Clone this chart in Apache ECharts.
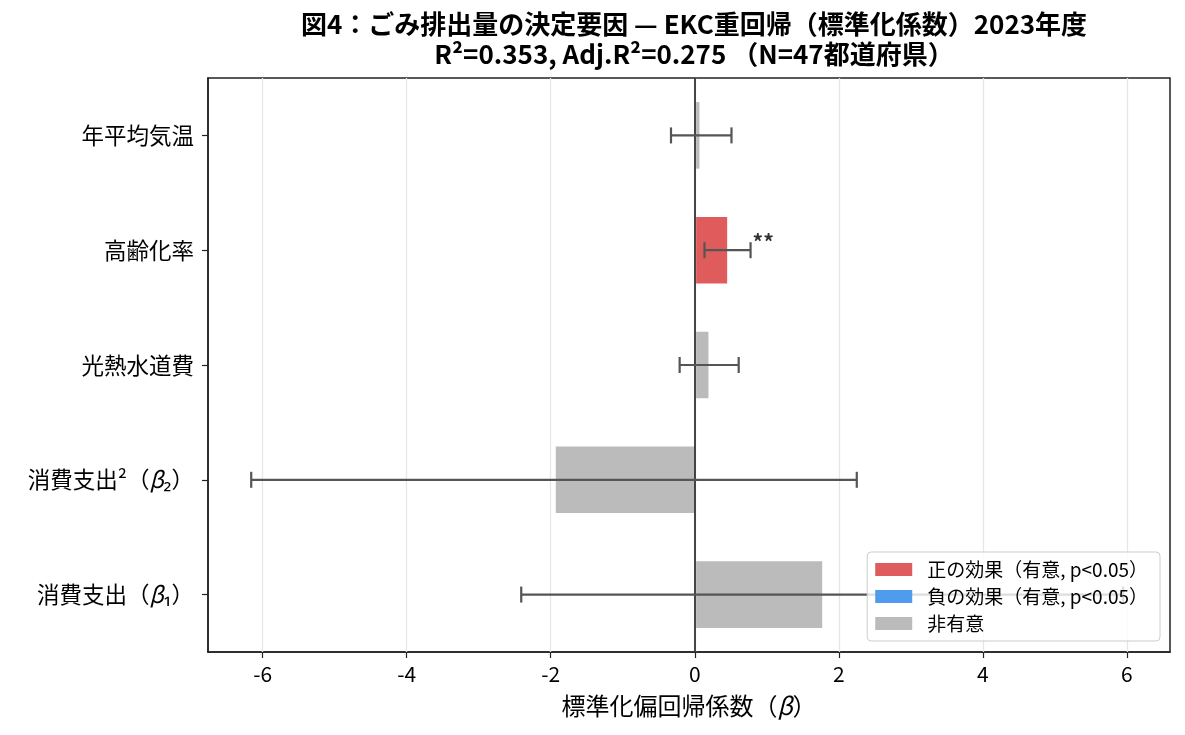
<!DOCTYPE html>
<html><head><meta charset="utf-8">
<script src="https://cdn.jsdelivr.net/npm/echarts@6/dist/echarts.min.js"></script>
<style>html,body{margin:0;padding:0;background:#fff}#c{width:1185px;height:735px}</style>
</head><body><div id="c"></div>
<script>
const categories = ['消費支出（β₁）', '消費支出²（β₂）', '光熱水道費', '高齢化率', '年平均気温'];
const beta   = [1.77, -1.93, 0.19, 0.45, 0.065];
const ciLow  = [-2.41, -6.16, -0.21, 0.135, -0.33];
const ciHigh = [5.95, 2.25, 0.61, 0.775, 0.51];
const stars  = ['', '', '', '**', ''];
const group  = ['ns', 'ns', 'ns', 'pos', 'ns'];
const xTicks = [-6, -4, -2, 0, 2, 4, 6];
const legendNames = { pos: '正の効果（有意, p<0.05）', neg: '負の効果（有意, p<0.05）', ns: '非有意' };
const colors = { pos: '#e05c5c', neg: '#4e9ceb', ns: '#bbbbbb' };

const FONT = '"Noto Sans CJK JP", "Noto Sans", sans-serif';
const chart = echarts.init(document.getElementById('c'));

const barSeries = ['pos', 'neg', 'ns'].map(g => ({
  name: legendNames[g],
  type: 'bar',
  barWidth: '58%',
  barGap: '-100%',
  z: 3,
  itemStyle: { color: colors[g] },
  data: beta.map((v, i) => group[i] === g ? v : '-')
}));

const errData = categories.map((c, i) => [ciLow[i], ciHigh[i], i]);
const italicBeta = s => s.replace(/β/g, '{b|β}');

const option = {
  animation: false,
  textStyle: { fontFamily: FONT },
  title: {
    text: '図4：ごみ排出量の決定要因 — EKC重回帰（標準化係数）2023年度\nR²=0.353, Adj.R²=0.275 （N=47都道府県）',
    left: 689, top: 4, textAlign: 'center',
    textStyle: { fontFamily: FONT, fontSize: 26, fontWeight: 'bold', color: '#000', lineHeight: 30 }
  },
  legend: {
    orient: 'vertical', right: 25, bottom: 94, z: 100,
    data: ['pos', 'neg', 'ns'].map(g => ({ name: legendNames[g], icon: 'rect' })),
    itemWidth: 37, itemHeight: 13, itemGap: 8,
    backgroundColor: 'rgba(255,255,255,0.8)', borderColor: '#cccccc', borderWidth: 1, borderRadius: 4,
    padding: [8, 12, 8, 8],
    textStyle: { fontFamily: FONT, fontSize: 19, color: '#000', padding: [0, 0, 0, 10] },
    selectedMode: false
  },
  grid: { left: 208, right: 15, top: 78, bottom: 83, show: true, borderColor: '#222', borderWidth: 1.5, backgroundColor: 'transparent' },
  xAxis: {
    type: 'value', min: -6.76, max: 6.6,
    name: italicBeta('標準化偏回帰係数（β）'), nameLocation: 'middle', nameGap: 42,
    nameTextStyle: { fontFamily: FONT, fontSize: 24, color: '#000', rich: { b: { fontFamily: FONT, fontSize: 24, fontStyle: 'italic', color: '#000' } } },
    axisLine: { show: true, onZero: false, lineStyle: { color: '#222', width: 1.5 } },
    axisTick: { show: true, length: 6, customValues: xTicks, lineStyle: { color: '#222', width: 1.2 } },
    axisLabel: { customValues: xTicks, fontFamily: FONT, fontSize: 21, color: '#000', margin: 12 },
    splitLine: { show: false }
  },
  yAxis: {
    type: 'category', data: categories,
    axisLine: { show: true, onZero: false, lineStyle: { color: '#222', width: 1.5 } },
    axisTick: { show: true, alignWithLabel: true, length: 6, lineStyle: { color: '#222', width: 1.2 } },
    axisLabel: {
      fontFamily: FONT, fontSize: 22.5, color: '#000', margin: 14,
      formatter: v => italicBeta(v),
      rich: { b: { fontFamily: FONT, fontSize: 22.5, fontStyle: 'italic', color: '#000' } }
    },
    splitLine: { show: false }
  },
  series: [
    {
      name: 'gridlines', type: 'line', data: [], z: 1, silent: true,
      markLine: {
        silent: true, symbol: ['none', 'none'], label: { show: false },
        lineStyle: { color: '#e6e6e6', width: 1.3, type: 'solid' },
        data: xTicks.map(t => ({ xAxis: t }))
      }
    },
    ...barSeries,
    {
      name: 'zero', type: 'line', data: [], z: 6, silent: true,
      markLine: {
        silent: true, symbol: ['none', 'none'], label: { show: false },
        lineStyle: { color: '#333333', width: 1.8, type: 'solid' },
        data: [{ xAxis: 0 }]
      }
    },
    {
      name: 'err', type: 'custom', z: 8, silent: true,
      encode: { x: [0, 1], y: 2 },
      data: errData,
      renderItem: function (params, api) {
        const lo = api.value(0), hi = api.value(1), c = api.value(2);
        const p1 = api.coord([lo, c]), p2 = api.coord([hi, c]);
        const h = 8;
        const st = { stroke: '#555555', lineWidth: 2.2 };
        const children = [
          { type: 'line', shape: { x1: p1[0], y1: p1[1], x2: p2[0], y2: p2[1] }, style: st },
          { type: 'line', shape: { x1: p1[0], y1: p1[1] - h, x2: p1[0], y2: p1[1] + h }, style: st },
          { type: 'line', shape: { x1: p2[0], y1: p2[1] - h, x2: p2[0], y2: p2[1] + h }, style: st }
        ];
        const s = stars[params.dataIndex];
        if (s) {
          children.push({ type: 'text', style: { text: s, x: p2[0] + 2, y: p2[1] - 19, fill: '#333', font: 'bold 21px ' + FONT } });
        }
        return { type: 'group', children: children };
      }
    }
  ]
};
chart.setOption(option);
</script></body></html>
